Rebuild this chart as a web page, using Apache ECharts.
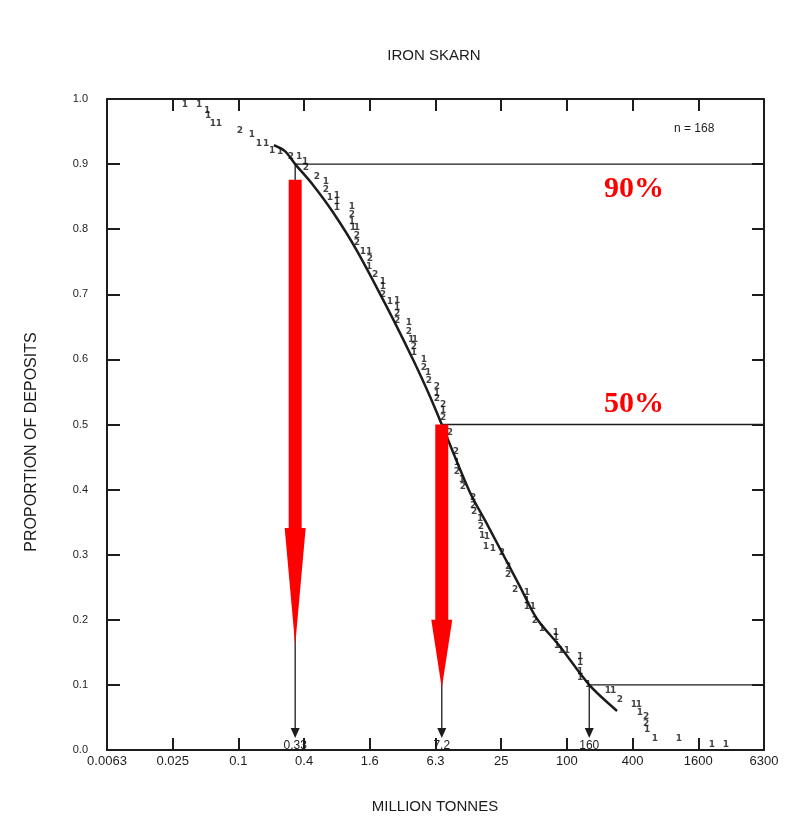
<!DOCTYPE html>
<html>
<head>
<meta charset="utf-8">
<title>Iron skarn tonnage</title>
<script src="https://cdn.jsdelivr.net/npm/echarts@6/dist/echarts.min.js"></script>
<style>
  html, body { margin: 0; padding: 0; background: #ffffff; }
  #chart { width: 787px; height: 825px; }
</style>
</head>
<body>
<div id="chart"></div>
<script>
// Tonnage tick labels: one tick every factor 10^0.6 (about x4), from 10^-2.2 to 10^3.8
const xTickLabels = ['0.0063', '0.025', '0.1', '0.4', '1.6', '6.3', '25', '100', '400', '1600', '6300'];

// Fitted lognormal curve (million tonnes vs. proportion of deposits)
const curveTonnage = [0.211, 0.266, 0.33, 0.48, 0.731, 1.2, 2.26, 3.95, 5.62, 7.2, 13.0, 18.5, 37.3, 53.0, 86.5, 160, 287];
const curveProportion = [0.929, 0.920, 0.9, 0.868, 0.826, 0.768, 0.681, 0.599, 0.543, 0.5, 0.396, 0.348, 0.251, 0.202, 0.159, 0.1, 0.06];

// Individual deposits: tonnage, cumulative proportion, number of deposits plotted at that spot
const pointTonnage = [
  0.0325, 0.0437, 0.0517, 0.0528, 0.0586, 0.0665, 0.103, 0.133, 0.154, 0.179,
  0.203, 0.240, 0.302, 0.358, 0.406, 0.414, 0.522, 0.631, 0.631, 0.686,
  0.795, 0.795, 0.795, 1.09, 1.09, 1.09, 1.11, 1.21, 1.21, 1.21,
  1.37, 1.56, 1.59, 1.56, 1.77, 2.09, 2.09, 2.09, 2.42, 2.81,
  2.81, 2.81, 2.81, 3.61, 3.61, 3.77, 4.10, 4.01, 4.01, 4.95,
  4.95, 5.39, 5.50, 6.51, 6.51, 6.51, 7.39, 7.39, 7.39, 8.55,
  9.71, 9.91, 9.91, 11.0, 11.2, 13.9, 13.9, 14.2, 16.1, 16.4,
  16.8, 18.6, 18.2, 21.1, 25.5, 29.0, 29.0, 33.6, 43.2, 43.2,
  43.2, 49.0, 51.1, 59.2, 79.5, 79.5, 81.2, 88.3, 100, 132,
  132, 132, 132, 156, 237, 264, 305, 410, 455, 465,
  528, 528, 539, 637, 1056, 2113, 2836
];
const pointProportion = [
  0.992, 0.991, 0.982, 0.974, 0.962, 0.962, 0.951, 0.945, 0.932, 0.931,
  0.920, 0.919, 0.911, 0.911, 0.903, 0.894, 0.880, 0.873, 0.860, 0.849,
  0.851, 0.842, 0.833, 0.834, 0.822, 0.811, 0.803, 0.803, 0.790, 0.780,
  0.765, 0.765, 0.754, 0.743, 0.730, 0.720, 0.711, 0.700, 0.688, 0.690,
  0.680, 0.670, 0.659, 0.656, 0.642, 0.630, 0.630, 0.619, 0.610, 0.599,
  0.588, 0.579, 0.568, 0.558, 0.548, 0.539, 0.530, 0.521, 0.510, 0.487,
  0.458, 0.441, 0.427, 0.415, 0.404, 0.387, 0.375, 0.366, 0.355, 0.343,
  0.330, 0.327, 0.312, 0.310, 0.303, 0.281, 0.269, 0.247, 0.241, 0.230,
  0.220, 0.220, 0.198, 0.187, 0.181, 0.172, 0.161, 0.152, 0.152, 0.144,
  0.134, 0.121, 0.111, 0.100, 0.091, 0.091, 0.077, 0.069, 0.069, 0.058,
  0.051, 0.041, 0.031, 0.018, 0.018, 0.008, 0.008
];
const pointCount = [
  1, 1, 1, 1, 1, 1, 2, 1, 1, 1,
  1, 1, 2, 1, 1, 2, 2, 1, 2, 1,
  1, 1, 1, 1, 2, 1, 1, 1, 2, 2,
  1, 1, 2, 1, 2, 1, 1, 2, 1, 1,
  1, 2, 2, 1, 2, 1, 1, 2, 1, 1,
  2, 1, 2, 2, 1, 2, 2, 1, 2, 2,
  2, 1, 2, 1, 2, 2, 2, 2, 1, 2,
  1, 1, 1, 1, 2, 2, 2, 2, 1, 1,
  1, 1, 2, 1, 1, 1, 1, 1, 1, 1,
  1, 1, 1, 1, 1, 1, 2, 1, 1, 1,
  2, 2, 1, 1, 1, 1, 1
];

// 90th, 50th and 10th percentile tonnages
const refTonnage = [0.33, 7.2, 160];
const refProportion = [0.9, 0.5, 0.1];
const refLabels = ['0.33', '7.2', '160'];

const percentLabels = ['90%', '50%'];
const depositCount = 168;

// Position on the tonnage axis: log10 scale, one unit per tick step
const LOG_START = -2.2;
const LOG_STEP = 0.6;
function tickPos(t) { return (Math.log10(t) - LOG_START) / LOG_STEP; }

const INK = '#1c1c1c';
const SANS = '"Liberation Sans", Arial, Helvetica, sans-serif';
const SERIF = '"Liberation Serif", "Times New Roman", serif';
const RED = '#ff0000';

// Red annotation arrows, in proportion units (top of shaft, start of head, tip)
const redArrows = [
  { tonnage: refTonnage[0], from: 0.876, head: 0.341, to: 0.161 },
  { tonnage: refTonnage[1], from: 0.500, head: 0.200, to: 0.095 }
];

function frameAxis(extra) {
  return Object.assign({
    type: 'value',
    axisLine: { show: true, onZero: false, lineStyle: { color: INK, width: 2 } },
    axisTick: { show: true, inside: true, length: 12, lineStyle: { color: INK, width: 2 } },
    splitLine: { show: false },
    axisLabel: { show: false }
  }, extra);
}

const chart = echarts.init(document.getElementById('chart'), null, { renderer: 'canvas' });

const option = {
  backgroundColor: '#ffffff',
  animation: false,
  grid: { left: 107, right: 23, top: 99, bottom: 75 },
  xAxis: [
    frameAxis({
      min: 0, max: 10, interval: 1, position: 'bottom',
      axisLabel: {
        show: true, margin: 5, color: INK, fontSize: 13, fontFamily: SANS,
        formatter: v => xTickLabels[Math.round(v)] || ''
      }
    }),
    frameAxis({ min: 0, max: 10, interval: 1, position: 'top' })
  ],
  yAxis: [
    frameAxis({
      min: 0, max: 1, interval: 0.1, position: 'left',
      axisTick: { show: true, inside: true, length: 13, lineStyle: { color: INK, width: 2 } },
      axisLabel: {
        show: true, margin: 19, color: INK, fontSize: 11, fontFamily: SANS,
        formatter: v => v.toFixed(1)
      }
    }),
    frameAxis({ min: 0, max: 1, interval: 0.1, position: 'right' })
  ],
  graphic: [
    { type: 'text', x: 434, y: 56, style: { text: 'IRON SKARN', font: '15px ' + SANS, fill: INK, align: 'center', verticalAlign: 'middle' } },
    { type: 'text', x: 435, y: 807, style: { text: 'MILLION TONNES', font: '15px ' + SANS, fill: INK, align: 'center', verticalAlign: 'middle' } },
    { type: 'text', x: 32, y: 442, rotation: Math.PI / 2, style: { text: 'PROPORTION OF DEPOSITS', font: '16px ' + SANS, fill: INK, align: 'center', verticalAlign: 'middle' } },
    { type: 'text', x: 674, y: 129, style: { text: 'n = ' + depositCount, font: '12px ' + SANS, fill: INK, align: 'left', verticalAlign: 'middle' } },
    { type: 'text', x: 634, y: 189, z: 100, style: { text: percentLabels[0], font: 'bold 30px ' + SERIF, fill: RED, align: 'center', verticalAlign: 'middle' } },
    { type: 'text', x: 634, y: 404, z: 100, style: { text: percentLabels[1], font: 'bold 30px ' + SERIF, fill: RED, align: 'center', verticalAlign: 'middle' } }
  ],
  series: [
    {
      name: 'fitted curve',
      type: 'line',
      data: curveTonnage.map((t, i) => [tickPos(t), curveProportion[i]]),
      smooth: 0.3,
      symbol: 'none',
      silent: true,
      lineStyle: { color: INK, width: 2.5 },
      z: 3
    },
    {
      name: 'deposits',
      type: 'scatter',
      data: pointTonnage.map((t, i) => [tickPos(t), pointProportion[i], pointCount[i]]),
      symbol: 'circle',
      symbolSize: 1,
      silent: true,
      itemStyle: { color: 'rgba(0,0,0,0)' },
      label: {
        show: true, position: 'inside', color: '#111111',
        fontSize: 9, fontWeight: 'bold', fontFamily: '"DejaVu Sans", sans-serif',
        formatter: p => String(p.value[2])
      },
      z: 4
    },
    {
      name: 'percentiles',
      type: 'custom',
      silent: true,
      data: refTonnage.map((t, i) => [tickPos(t), refProportion[i], i]),
      renderItem: function (params, api) {
        const x = api.value(0);
        const p = api.value(1);
        const idx = api.value(2);
        const top = api.coord([x, p]);
        const right = api.coord([10, p]);
        const base = api.coord([x, 0]);
        const cx = top[0];
        return {
          type: 'group',
          children: [
            { type: 'polyline', shape: { points: [right, top, [cx, base[1] - 21]] },
              style: { stroke: INK, lineWidth: 1.3, fill: null } },
            { type: 'polygon', shape: { points: [[cx - 4.5, base[1] - 22], [cx + 4.5, base[1] - 22], [cx, base[1] - 12]] },
              style: { fill: INK } },
            { type: 'text', style: { text: refLabels[idx], x: cx, y: base[1] + 2, align: 'center', verticalAlign: 'bottom',
              font: '12px ' + SANS, fill: INK } }
          ]
        };
      },
      z: 2
    },
    {
      name: 'arrows',
      type: 'custom',
      silent: true,
      data: redArrows.map(a => [tickPos(a.tonnage), a.from, a.head, a.to]),
      renderItem: function (params, api) {
        const x = api.value(0);
        const top = api.coord([x, api.value(1)]);
        const head = api.coord([x, api.value(2)]);
        const tip = api.coord([x, api.value(3)]);
        const cx = top[0];
        return {
          type: 'group',
          children: [
            { type: 'rect', shape: { x: cx - 6.5, y: top[1], width: 13, height: head[1] - top[1] + 1 }, style: { fill: RED } },
            { type: 'polygon', shape: { points: [[cx - 10.5, head[1]], [cx + 10.5, head[1]], [cx, tip[1]]] }, style: { fill: RED } }
          ]
        };
      },
      z: 10
    }
  ]
};

chart.setOption(option);
</script>
</body>
</html>
